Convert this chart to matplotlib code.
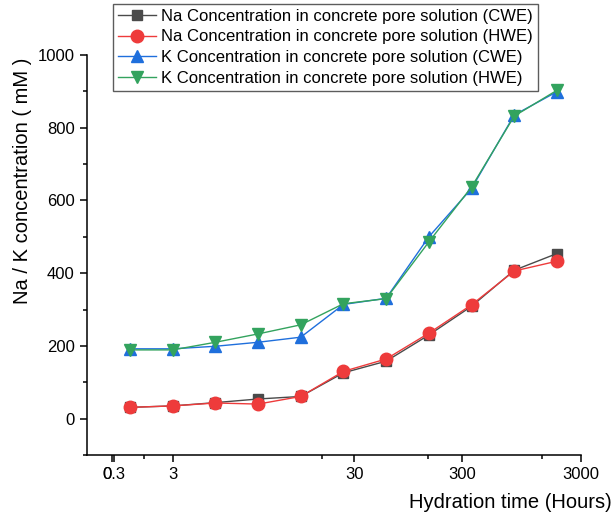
import matplotlib
matplotlib.use("Agg")
import matplotlib.pyplot as plt
from matplotlib.ticker import FixedLocator, NullFormatter

plt.rcParams['font.family'] = ['Liberation Sans', 'DejaVu Sans']

# Sampling points (evenly spaced on the plotting axis)
sample_index = list(range(11))

na_cwe = [31, 35, 44, 54, 61, 126, 158, 230, 309, 408, 454]
na_hwe = [31, 35, 43, 40, 61, 130, 164, 235, 313, 406, 433]
k_cwe = [192, 192, 199, 210, 224, 314, 331, 500, 633, 835, 899]
k_hwe = [189, 189, 210, 233, 258, 316, 330, 486, 637, 832, 903]

series_labels = [
    "Na Concentration in concrete pore solution (CWE)",
    "Na Concentration in concrete pore solution (HWE)",
    "K Concentration in concrete pore solution (CWE)",
    "K Concentration in concrete pore solution (HWE)",
]

# Hydration-time axis labels and where they sit on the sample axis
x_tick_pos = [-0.42, -0.375, 1.0, 5.25, 7.78, 10.56]
x_tick_labels = ["0", "0.3", "3", "30", "300", "3000"]
x_minor_pos = [0.33, 4.5, 6.98, 9.65]

fig = plt.figure(figsize=(6.14, 5.21), dpi=100)
ax = fig.add_axes([0.1417, 0.1267, 0.8043, 0.7677])

styles = [
    dict(color="#4a4a4a", marker="s", ms=7.5),
    dict(color="#ee3b3b", marker="o", ms=9),
    dict(color="#1f6fdc", marker="^", ms=9),
    dict(color="#33a35e", marker="v", ms=9),
]
for vals, lab, st in zip([na_cwe, na_hwe, k_cwe, k_hwe], series_labels, styles):
    ax.plot(sample_index, vals, color=st["color"], lw=1.0, marker=st["marker"],
            ms=st["ms"], mfc=st["color"], mec=st["color"], label=lab)

ax.set_xlim(-1.007, 10.56)
ax.set_ylim(-100, 1000)

for s in ["top", "right"]:
    ax.spines[s].set_visible(False)
for s in ["left", "bottom"]:
    ax.spines[s].set_linewidth(1.1)

ax.xaxis.set_major_locator(FixedLocator(x_tick_pos))
ax.set_xticklabels(x_tick_labels)
ax.xaxis.set_minor_locator(FixedLocator(x_minor_pos))
ax.xaxis.set_minor_formatter(NullFormatter())
ax.get_xticklabels()[0].set_ha("right")

ax.set_yticks([0, 200, 400, 600, 800, 1000])
ax.yaxis.set_minor_locator(FixedLocator([-100, 100, 300, 500, 700, 900]))

ax.tick_params(axis="both", which="major", direction="out", length=5, width=1.1,
               labelsize=12, pad=4)
ax.tick_params(axis="both", which="minor", direction="out", length=3, width=1.1)

ax.set_ylabel("Na / K concentration ( mM )", fontsize=14.5)
ax.yaxis.set_label_coords(-0.112, 0.685)
fig.text(0.997, 0.035, "Hydration time (Hours)", fontsize=14.5, ha="right", va="center")

leg = ax.legend(loc="upper left", bbox_to_anchor=(113 / 614, 1 - 4 / 521),
                bbox_transform=fig.transFigure, fontsize=12, frameon=True,
                fancybox=False, edgecolor="#333333", borderpad=0.3,
                labelspacing=0.33, handlelength=2.3, handletextpad=0.3,
                borderaxespad=0)
leg.get_frame().set_linewidth(1.0)

fig.savefig("out.png", dpi=100)
